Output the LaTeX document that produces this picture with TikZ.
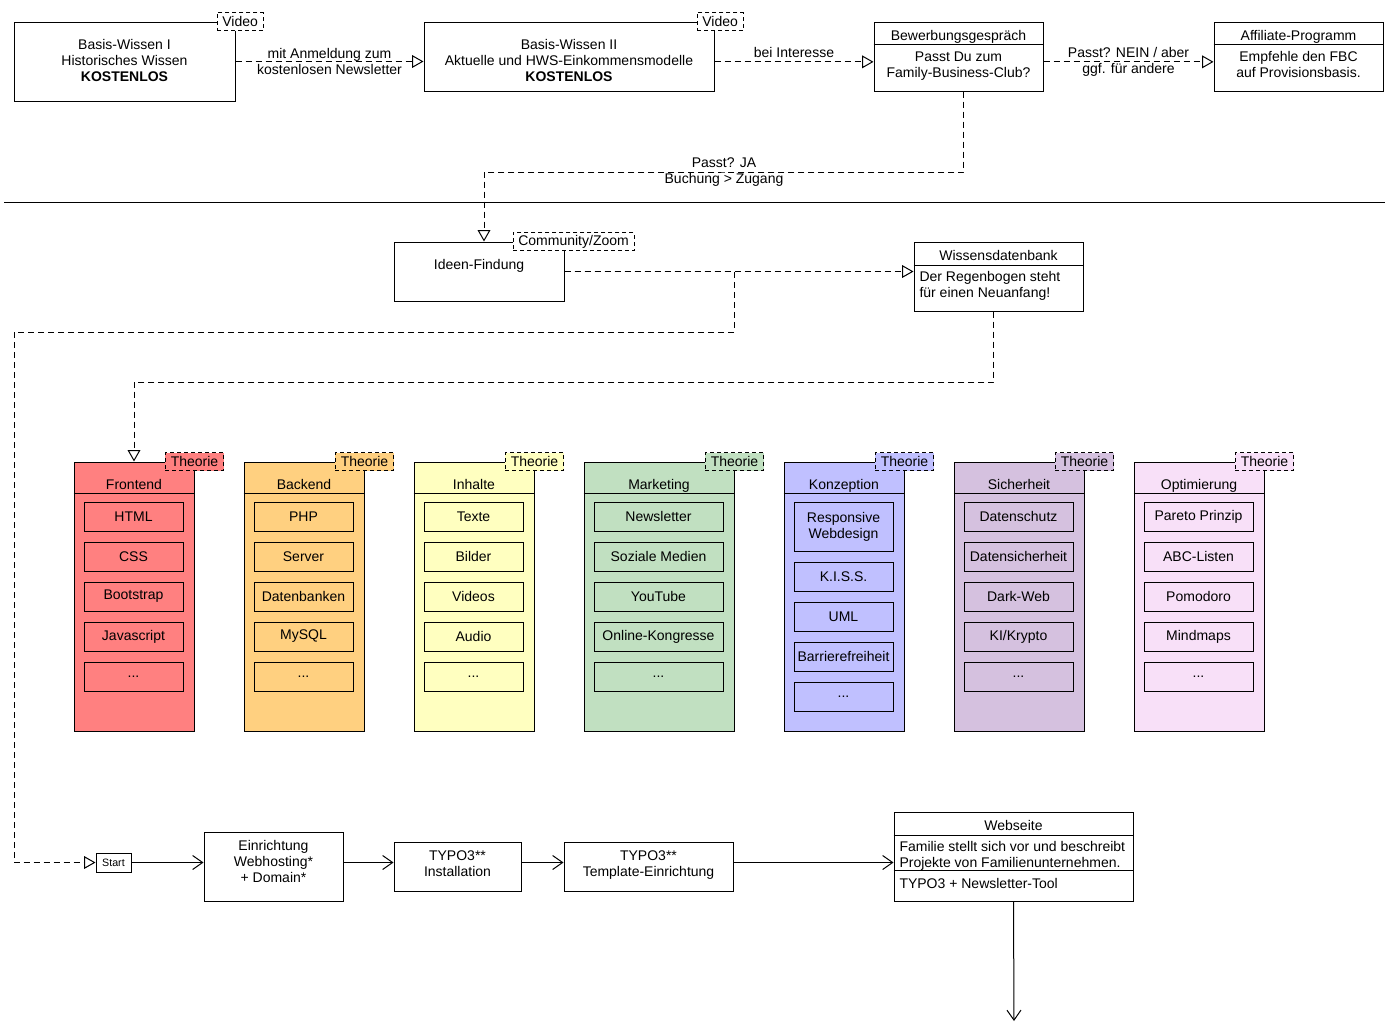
\documentclass[tikz,border=0pt]{standalone}
\usepackage{fontspec}
\setmainfont{Liberation Sans}
\usetikzlibrary{arrows.meta}

\definecolor{frontend}{RGB}{255,128,128}
\definecolor{backend}{RGB}{255,208,128}
\definecolor{inhalte}{RGB}{255,255,192}
\definecolor{marketing}{RGB}{193,224,193}
\definecolor{konzeption}{RGB}{192,192,255}
\definecolor{sicherheit}{RGB}{213,193,223}
\definecolor{optimierung}{RGB}{248,224,248}

\tikzset{
  every node/.style={font=\fontsize{10.5}{12}\selectfont, inner sep=0pt, align=center},
  box/.style 2 args={draw, fill=white, minimum width=#1*0.75pt, minimum height=#2*0.75pt},
  tbox/.code n args={3}{%
    \pgfmathsetlengthmacro\tbw{#1*0.75pt}%
    \pgfmathsetlengthmacro\tbh{#2*0.75pt}%
    \pgfmathsetlengthmacro\tbt{#3*0.75pt}%
    \pgfmathsetlengthmacro\tbd{(#2-#3)*0.75pt}%
    \edef\tbnext{\noexpand\tikzset{draw, fill=white, minimum width=\tbw,
      minimum height=\tbh, text height=\tbt, text depth=\tbd}}%
    \tbnext},
  tag/.style={draw, dash pattern=on 3pt off 2.25pt, fill=white, inner xsep=4pt, minimum height=13.5pt},
  dep/.style={draw, dash pattern=on 4.5pt off 3pt, -{Triangle[open,length=8.5pt,width=9.5pt]}},
  flow/.style={draw, -{Straight Barb[length=7.5pt,width=10.5pt]}},
}

\begin{document}
\begin{tikzpicture}[x=0.75pt, y=-0.75pt, line width=0.75pt]
\useasboundingbox (0,0) rectangle (1396,1022);

% Basis-Wissen und Bewerbung
\node[tbox={221}{79}{59}] (bw1) at (124.5,61.5) {Basis-Wissen I\\Historisches Wissen\\\textbf{KOSTENLOS}};
\node[tag, anchor=west] (vid1) at ([xshift=-14.25pt]bw1.north east) {Video};
\node[tbox={290}{69}{59}] (bw2) at (569,56.5) {Basis-Wissen II\\Aktuelle und HWS-Einkommensmodelle\\\textbf{KOSTENLOS}};
\node[tag, anchor=west] (vid2) at ([xshift=-13.5pt]bw2.north east) {Video};
\node[tbox={169}{69}{18}] (bew) at (958.5,56.5) {Bewerbungsgespräch};
\node[anchor=north] (bewtxt) at (958.5,51) {Passt Du zum\\Family-Business-Club?};
\draw ([yshift=-17.25pt]bew.north west) -- ([yshift=-17.25pt]bew.north east);
\node[tbox={169}{69}{18}] (aff) at (1298.5,56.5) {Affiliate-Programm};
\node[anchor=north] (afftxt) at (1298.5,51) {Empfehle den FBC\\auf Provisionsbasis.};
\draw ([yshift=-17.25pt]aff.north west) -- ([yshift=-17.25pt]aff.north east);

\draw (4,202) -- (1385,202);

% Community und Wissen
\node[tbox={170}{59}{27}] (ideen) at (479,271.5) {Ideen-Findung};
\node[tag, anchor=west] (comm) at ([xshift=-39pt]ideen.north east) {Community/Zoom};
\node[tbox={169}{69}{18}] (wiss) at (998.5,276.5) {Wissensdatenbank};
\node[anchor=north west, align=left] (wisstxt) at (919,271) {Der Regenbogen steht\\für einen Neuanfang!};
\draw ([yshift=-18pt]wiss.north west) -- ([yshift=-18pt]wiss.north east);

% Frontend
\node[tbox={120}{269}{27}, fill=frontend] (fe) at (134,596.5) {Frontend};
\draw ([yshift=-24pt]fe.north west) -- ([yshift=-24pt]fe.north east);
\node[tag, fill=frontend] (fet) at (fe.north east) {Theorie};
\node[box={99}{29}, fill=frontend] (fe1) at (133.5,516.5) {HTML};
\node[box={99}{29}, fill=frontend] (fe2) at (133.5,556.5) {CSS};
\node[box={99}{29}, fill=frontend] (fe3) at (133.5,596.5) {Bootstrap};
\node[box={99}{29}, fill=frontend] (fe4) at (133.5,636.5) {Javascript};
\node[box={99}{29}, fill=frontend] (fe5) at (133.5,676.5) {...};

% Backend
\node[tbox={120}{269}{27}, fill=backend] (be) at (304,596.5) {Backend};
\draw ([yshift=-24pt]be.north west) -- ([yshift=-24pt]be.north east);
\node[tag, fill=backend] (bet) at (be.north east) {Theorie};
\node[box={99}{29}, fill=backend] (be1) at (303.5,516.5) {PHP};
\node[box={99}{29}, fill=backend] (be2) at (303.5,556.5) {Server};
\node[box={99}{29}, fill=backend] (be3) at (303.5,596.5) {Datenbanken};
\node[box={99}{29}, fill=backend] (be4) at (303.5,636.5) {MySQL};
\node[box={99}{29}, fill=backend] (be5) at (303.5,676.5) {...};

% Inhalte
\node[tbox={120}{269}{27}, fill=inhalte] (in) at (474,596.5) {Inhalte};
\draw ([yshift=-24pt]in.north west) -- ([yshift=-24pt]in.north east);
\node[tag, fill=inhalte] (int) at (in.north east) {Theorie};
\node[box={99}{29}, fill=inhalte] (in1) at (473.5,516.5) {Texte};
\node[box={99}{29}, fill=inhalte] (in2) at (473.5,556.5) {Bilder};
\node[box={99}{29}, fill=inhalte] (in3) at (473.5,596.5) {Videos};
\node[box={99}{29}, fill=inhalte] (in4) at (473.5,636.5) {Audio};
\node[box={99}{29}, fill=inhalte] (in5) at (473.5,676.5) {...};

% Marketing
\node[tbox={150}{269}{27}, fill=marketing] (ma) at (659,596.5) {Marketing};
\draw ([yshift=-24pt]ma.north west) -- ([yshift=-24pt]ma.north east);
\node[tag, fill=marketing] (mat) at (ma.north east) {Theorie};
\node[box={129}{29}, fill=marketing] (ma1) at (658.5,516.5) {Newsletter};
\node[box={129}{29}, fill=marketing] (ma2) at (658.5,556.5) {Soziale Medien};
\node[box={129}{29}, fill=marketing] (ma3) at (658.5,596.5) {YouTube};
\node[box={129}{29}, fill=marketing] (ma4) at (658.5,636.5) {Online-Kongresse};
\node[box={129}{29}, fill=marketing] (ma5) at (658.5,676.5) {...};

% Konzeption
\node[tbox={120}{269}{27}, fill=konzeption] (ko) at (844,596.5) {Konzeption};
\draw ([yshift=-24pt]ko.north west) -- ([yshift=-24pt]ko.north east);
\node[tag, fill=konzeption] (kot) at (ko.north east) {Theorie};
\node[box={99}{49}, fill=konzeption] (ko1) at (843.5,526.5) {Responsive\\Webdesign};
\node[box={99}{29}, fill=konzeption] (ko2) at (843.5,576.5) {K.I.S.S.};
\node[box={99}{29}, fill=konzeption] (ko3) at (843.5,616.5) {UML};
\node[box={99}{29}, fill=konzeption] (ko4) at (843.5,656.5) {Barrierefreiheit};
\node[box={99}{29}, fill=konzeption] (ko5) at (843.5,696.5) {...};

% Sicherheit
\node[tbox={130}{269}{27}, fill=sicherheit] (si) at (1019,596.5) {Sicherheit};
\draw ([yshift=-24pt]si.north west) -- ([yshift=-24pt]si.north east);
\node[tag, fill=sicherheit] (sit) at (si.north east) {Theorie};
\node[box={109}{29}, fill=sicherheit] (si1) at (1018.5,516.5) {Datenschutz};
\node[box={109}{29}, fill=sicherheit] (si2) at (1018.5,556.5) {Datensicherheit};
\node[box={109}{29}, fill=sicherheit] (si3) at (1018.5,596.5) {Dark-Web};
\node[box={109}{29}, fill=sicherheit] (si4) at (1018.5,636.5) {KI/Krypto};
\node[box={109}{29}, fill=sicherheit] (si5) at (1018.5,676.5) {...};

% Optimierung
\node[tbox={130}{269}{27}, fill=optimierung] (op) at (1199,596.5) {Optimierung};
\draw ([yshift=-24pt]op.north west) -- ([yshift=-24pt]op.north east);
\node[tag, fill=optimierung] (opt) at (op.north east) {Theorie};
\node[box={109}{29}, fill=optimierung] (op1) at (1198.5,516.5) {Pareto Prinzip};
\node[box={109}{29}, fill=optimierung] (op2) at (1198.5,556.5) {ABC-Listen};
\node[box={109}{29}, fill=optimierung] (op3) at (1198.5,596.5) {Pomodoro};
\node[box={109}{29}, fill=optimierung] (op4) at (1198.5,636.5) {Mindmaps};
\node[box={109}{29}, fill=optimierung] (op5) at (1198.5,676.5) {...};

% Webseite
\node[box={35}{19}, font=\fontsize{8}{9}\selectfont] (start) at (113.5,862.5) {Start};
\node[tbox={139}{69}{50}] (einr) at (273.5,866.5) {Einrichtung\\Webhosting*\\+ Domain*};
\node[tbox={127}{49}{34}] (inst) at (457.5,866.5) {TYPO3**\\Installation};
\node[tbox={169}{49}{34}] (tmpl) at (648.5,866.5) {TYPO3**\\Template-Einrichtung};
\node[tbox={239}{89}{18}] (web) at (1013.5,856.5) {Webseite};
\node[anchor=north west, align=left] (webtxt) at (899,841) {Familie stellt sich vor und beschreibt\\Projekte von Familienunternehmen.};
\draw ([yshift=-18pt]web.north west) -- ([yshift=-18pt]web.north east);
\draw ([yshift=-44.25pt]web.north west) -- ([yshift=-44.25pt]web.north east);
\node[anchor=north west] (webtool) at (899,878) {TYPO3 + Newsletter-Tool};

% Verbindungen
\coordinate (ja) at (724,172);
\coordinate (k1) at (734,332);
\coordinate (k2) at (14,332);
\coordinate (k3) at (134,382);
\coordinate (ende) at (1014,1021);

\path[dep] (bw1.east) -- node{mit Anmeldung zum\\kostenlosen Newsletter} (bw1.east -| bw2.west);
\path[dep] ([yshift=-4pt]bw2.east) -- node[above=3pt]{bei Interesse} ([yshift=-4pt]bew.west);
\path[dep] ([yshift=-4pt]bew.east) -- node{Passt? NEIN / aber\\ggf. für andere} ([yshift=-4pt]aff.west);
\path[dep] ([xshift=4.1pt]bew.south) |- (ja) node{Passt? JA\\Buchung > Zugang} -| ([xshift=3.75pt]ideen.north);
\path[dep] (ideen.east) -- (ideen.east -| wiss.west);
\path[dep] (ideen.east) -| (k1) -- (k2) |- (start.west);
\path[dep] ([xshift=-3.4pt]wiss.south) |- (k3) -- (fe.north);

\path[flow] (start.east) -- (start.east -| einr.west);
\path[flow] (einr.east |- start.east) -- (inst.west |- start.east);
\path[flow] (inst.east |- start.east) -- (tmpl.west |- start.east);
\path[flow] (tmpl.east |- start.east) -- (web.west |- start.east);
\path[flow] (web.south) -- (ende);
\end{tikzpicture}
\end{document}
